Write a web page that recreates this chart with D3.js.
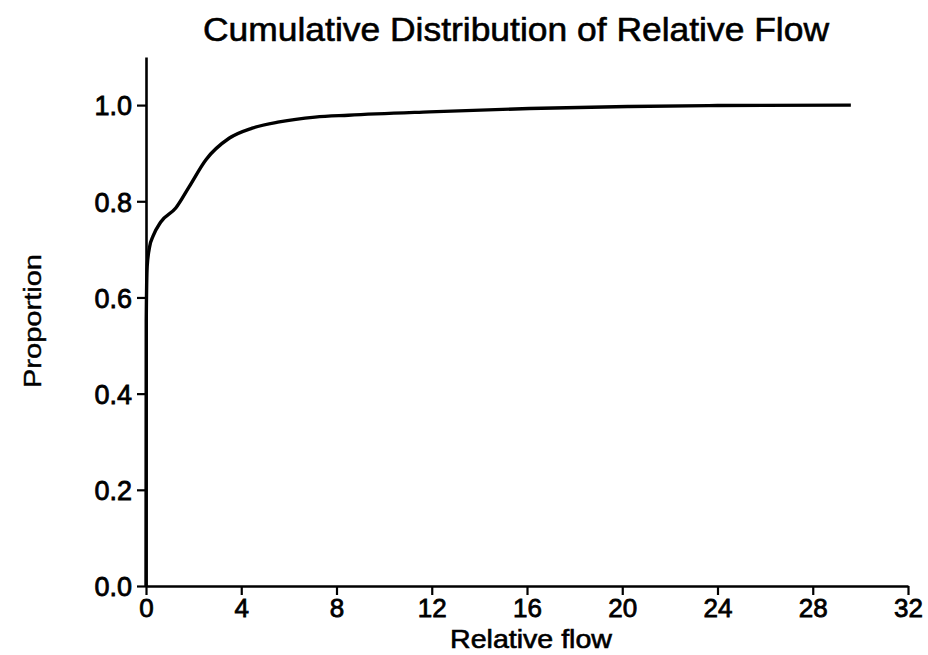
<!DOCTYPE html>
<html>
<head>
<meta charset="utf-8">
<script src="https://cdn.jsdelivr.net/npm/d3@7"></script>
<style>
  body { margin: 0; background: #fff; }
  svg { display: block; }
  text { font-family: "Liberation Sans", Arial, Helvetica, sans-serif; fill: #000; }
</style>
</head>
<body>
<div id="chart"></div>
<script>
// --- data ---
const flow       = [0, 0.01, 0.05, 0.15, 0.3, 0.62, 1.25, 1.81, 2.51, 3.49, 4.46, 5.6, 7.1, 8.5, 11.9, 16.1, 20.3, 24, 29.6];
const proportion = [0, 0.55, 0.665, 0.705, 0.728, 0.757, 0.786, 0.83, 0.886, 0.931, 0.952, 0.965, 0.975, 0.979, 0.986, 0.993, 0.997, 0.999, 1.0];
const xTicks = [0, 4, 8, 12, 16, 20, 24, 28, 32];
const yTicks = [0, 0.2, 0.4, 0.6, 0.8, 1.0];

const points = flow.map((f, i) => ({ x: f, y: proportion[i] }));

// --- chart setup ---
const W = 928, H = 655;
const svg = d3.select("#chart").append("svg")
    .attr("width", W)
    .attr("height", H);

const x = d3.scaleLinear().domain([0, 32]).range([146, 908]);
const y = d3.scaleLinear().domain([0, 1.1]).range([586, 57]);

// title
svg.append("text")
    .attr("x", 516).attr("y", 41)
    .attr("text-anchor", "middle")
    .attr("font-size", 34)
    .attr("textLength", 626)
    .attr("lengthAdjust", "spacingAndGlyphs")
    .style("stroke", "#000").style("stroke-width", 0.6)
    .text("Cumulative Distribution of Relative Flow");

// x axis
const xAxis = svg.append("g")
    .attr("transform", `translate(0,${y(0)})`)
    .call(d3.axisBottom(x).tickValues(xTicks).tickSize(9).tickPadding(4).tickSizeOuter(0));

// y axis
const yAxis = svg.append("g")
    .attr("transform", `translate(${x(0)},0)`)
    .call(d3.axisLeft(y).tickValues(yTicks).tickSize(9).tickPadding(5).tickSizeOuter(0)
        .tickFormat(d3.format(".1f")));

[xAxis, yAxis].forEach(g => {
    g.select(".domain").attr("stroke", "#000").attr("stroke-width", 2.6);
    g.selectAll(".tick line").attr("stroke", "#000").attr("stroke-width", 2.2);
    g.selectAll(".tick text")
        .attr("font-size", 27)
        .attr("font-family", '"Liberation Sans", Arial, sans-serif')
        .style("stroke", "#000").style("stroke-width", 0.8);
});
yAxis.selectAll(".tick text").attr("dy", "0.36em");
xAxis.selectAll(".tick text").attr("font-size", 26);

// axis titles
svg.append("text")
    .attr("x", 531).attr("y", 648)
    .attr("text-anchor", "middle")
    .attr("font-size", 25)
    .attr("textLength", 162)
    .attr("lengthAdjust", "spacingAndGlyphs")
    .style("stroke", "#000").style("stroke-width", 0.6)
    .text("Relative flow");

svg.append("text")
    .attr("transform", "translate(41,321) rotate(-90)")
    .attr("text-anchor", "middle")
    .attr("font-size", 23)
    .attr("textLength", 134)
    .attr("lengthAdjust", "spacingAndGlyphs")
    .style("stroke", "#000").style("stroke-width", 0.4)
    .text("Proportion");

// cumulative curve
const line = d3.line()
    .x(d => x(d.x))
    .y(d => y(d.y))
    .curve(d3.curveMonotoneX);

svg.append("path")
    .datum(points)
    .attr("fill", "none")
    .attr("stroke", "#000")
    .attr("stroke-width", 3.4)
    .attr("stroke-linejoin", "round")
    .attr("d", line);
</script>
</body>
</html>
